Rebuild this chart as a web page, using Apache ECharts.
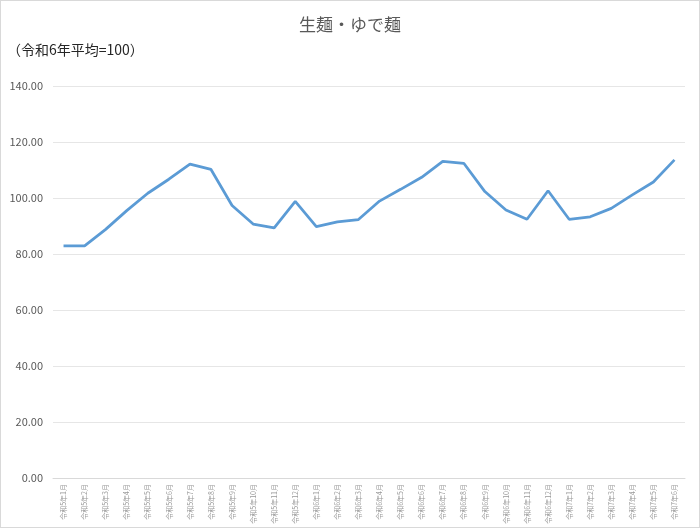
<!DOCTYPE html>
<html>
<head>
<meta charset="utf-8">
<script src="https://cdn.jsdelivr.net/npm/echarts@6/dist/echarts.min.js"></script>
<style>
	html, body { margin: 0; padding: 0; background: #fff; }
	#chart { width: 698px; height: 526px; border: 1px solid #d9d9d9; }
</style>
</head>
<body>
<div id="chart"></div>
<script>
var months = [
	'令和5年1月', '令和5年2月', '令和5年3月', '令和5年4月', '令和5年5月', '令和5年6月',
	'令和5年7月', '令和5年8月', '令和5年9月', '令和5年10月', '令和5年11月', '令和5年12月',
	'令和6年1月', '令和6年2月', '令和6年3月', '令和6年4月', '令和6年5月', '令和6年6月',
	'令和6年7月', '令和6年8月', '令和6年9月', '令和6年10月', '令和6年11月', '令和6年12月',
	'令和7年1月', '令和7年2月', '令和7年3月', '令和7年4月', '令和7年5月', '令和7年6月'
];
var indexValues = [
	82.9, 82.9, 88.8, 95.5, 101.7, 106.7, 112.1, 110.2, 97.3, 90.7, 89.3, 98.8,
	89.8, 91.5, 92.3, 98.9, 103.1, 107.4, 113.1, 112.4, 102.3, 95.7, 92.4, 102.6,
	92.4, 93.3, 96.3, 101.1, 105.7, 113.6
];
var yMin = 0, yMax = 140, yStep = 20;

var myChart = echarts.init(document.getElementById('chart'));

var option = {
	animation: false,
	title: [{
		text: '生麺・ゆで麺',
		left: 'center',
		top: 10,
		textStyle: { fontFamily: 'Noto Sans CJK JP', fontSize: 17, fontWeight: 'normal', color: '#595959' }
	}, {
		text: '（令和6年平均=100）',
		left: 1,
		top: 37,
		textStyle: { fontFamily: 'Noto Sans CJK JP', fontSize: 14, fontWeight: 'normal', color: '#262626' }
	}],
	grid: { left: 52, right: 14, top: 85, bottom: 49 },
	xAxis: {
		type: 'category',
		data: months,
		boundaryGap: true,
		axisLine: { lineStyle: { color: '#d9d9d9' } },
		axisTick: { show: false },
		axisLabel: {
			interval: 0,
			rotate: 90,
			fontFamily: 'Noto Sans CJK JP',
			fontSize: 7,
			color: '#999999',
			margin: 6
		}
	},
	yAxis: {
		type: 'value',
		min: yMin,
		max: yMax,
		interval: yStep,
		axisLine: { show: false },
		axisTick: { show: false },
		splitLine: { lineStyle: { color: '#e6e6e6', width: 1 } },
		axisLabel: {
			formatter: function (v) { return v.toFixed(2); },
			fontFamily: 'Noto Sans CJK JP',
			fontSize: 11,
			color: '#595959',
			margin: 10
		}
	},
	series: [{
		type: 'line',
		data: indexValues,
		showSymbol: false,
		lineStyle: { color: '#5b9bd5', width: 2.75 },
		itemStyle: { color: '#5b9bd5' }
	}]
};
myChart.setOption(option, true);
</script>
</body>
</html>
